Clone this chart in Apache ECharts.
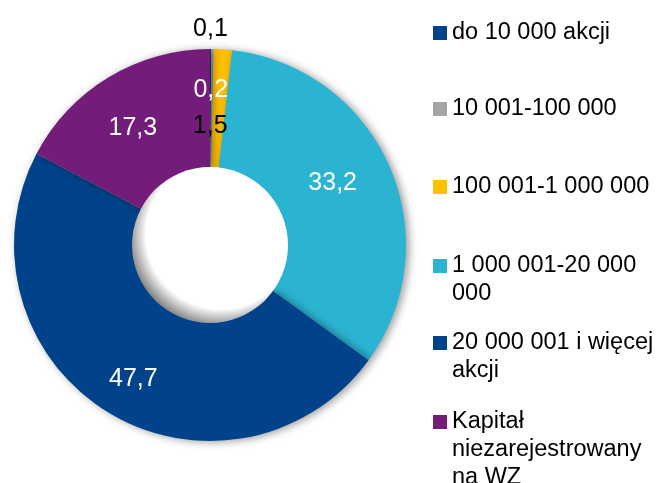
<!DOCTYPE html>
<html>
<head>
<meta charset="utf-8">
<title>Struktura akcjonariatu</title>
<script src="https://cdn.jsdelivr.net/npm/echarts@6/dist/echarts.min.js"></script>
<style>
  html, body { margin: 0; padding: 0; background: #fff; }
  #chart { width: 657px; height: 483px; }
</style>
</head>
<body>
<div id="chart"></div>
<script>
// dane
var categories = ['do 10 000 akcji', '10 001-100 000', '100 001-1 000 000',
    '1 000 001-20 000 000', '20 000 001 i więcej akcji', 'Kapitał niezarejestrowany na WZ'];
var legendLabels = ['do 10 000 akcji', '10 001-100 000', '100 001-1 000 000',
    '1 000 001-20 000\n000', '20 000 001 i więcej\nakcji', 'Kapitał\nniezarejestrowany\nna WZ'];
var shares = [0.1, 0.2, 1.5, 33.2, 47.7, 17.3];

var colors = ['#00438B', '#A5A5A5', '#FFC000', '#2AB4D1', '#00438B', '#731C79'];
var labelColors = ['#000', '#fff', '#000', '#fff', '#fff', '#fff'];
var labelOffsets = [[0, -76], [-1, -15], [-9, 20], [-5, -6], [-3, 16], [-5, 3]];
var legendIconY = [33, 109, 187, 266, 343, 422];

var FONT = '"Liberation Sans", Arial, sans-serif';

var myChart = echarts.init(document.getElementById('chart'));

// tekst wielowierszowy: puste wiersze na początku, żeby pierwszy wiersz stał przy ikonie
var legends = categories.map(function (name, i) {
    var lines = legendLabels[i].split('\n');
    var pad = [];
    for (var k = 1; k < lines.length; k++) pad.push(' ');
    var text = pad.concat(lines).join('\n');
    return {
        data: [name],
        orient: 'vertical',
        left: 433,
        top: legendIconY[i] - 14 * (2 * lines.length - 1),
        padding: 0,
        icon: 'rect',
        itemWidth: 14,
        itemHeight: 14,
        selectedMode: false,
        formatter: function () { return text; },
        textStyle: {
            fontFamily: FONT,
            fontSize: 23.5,
            lineHeight: 28,
            color: '#000'
        }
    };
});

var option = {
    animation: false,
    color: colors,
    legend: legends,
    series: [{
        name: 'udział',
        type: 'pie',
        center: [210, 245],
        radius: [77, 196],
        startAngle: 90,
        clockwise: true,
        avoidLabelOverlap: false,
        silent: true,
        itemStyle: {
            borderWidth: 0,
            shadowBlur: 9,
            shadowOffsetX: 3,
            shadowOffsetY: 1,
            shadowColor: 'rgba(0,0,0,0.4)'
        },
        labelLine: { show: false },
        data: shares.map(function (v, i) {
            return {
                name: categories[i],
                value: v,
                label: {
                    show: true,
                    position: 'inside',
                    color: labelColors[i],
                    offset: labelOffsets[i],
                    fontFamily: FONT,
                    fontSize: 25,
                    formatter: function () { return String(v).replace('.', ','); }
                }
            };
        })
    }, {
        // biały środek z cieniem wewnętrznym
        type: 'pie',
        center: [210, 245],
        radius: [0, 78],
        silent: true,
        label: { show: false },
        labelLine: { show: false },
        itemStyle: {
            borderWidth: 0,
            color: {
                type: 'radial', x: 0.57, y: 0.43, r: 0.6,
                colorStops: [
                    { offset: 0, color: '#ffffff' },
                    { offset: 0.8, color: '#ffffff' },
                    { offset: 1, color: '#808080' }
                ]
            }
        },
        data: [{ name: 'hole', value: 1 }]
    }]
};

myChart.setOption(option);
</script>
</body>
</html>
